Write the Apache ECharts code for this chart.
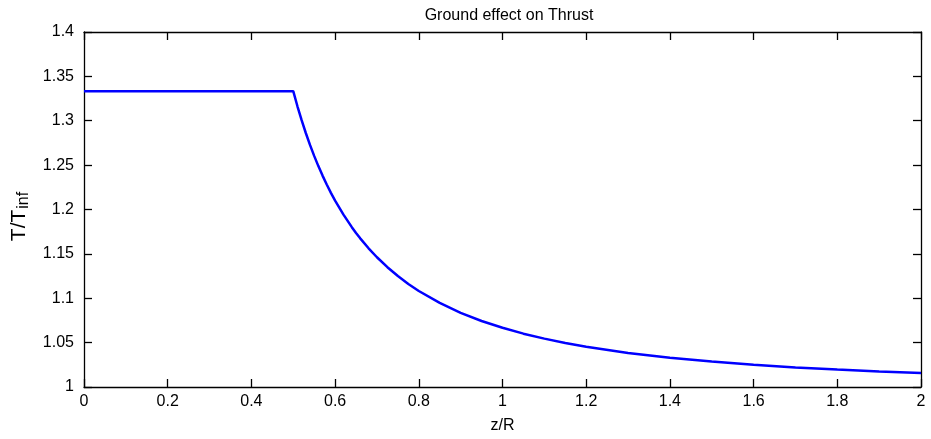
<!DOCTYPE html>
<html>
<head>
<meta charset="utf-8">
<style>
  html, body { margin: 0; padding: 0; background: #fff; }
  #chart { width: 931px; height: 439px; }
</style>
<script src="https://cdn.jsdelivr.net/npm/echarts@6/dist/echarts.min.js"></script>
</head>
<body>
<div id="chart"></div>
<script>
// Height above ground, z/R
const zOverR = [0, 0.1, 0.2, 0.3, 0.4, 0.5,
  0.51, 0.52, 0.53, 0.54, 0.55, 0.56, 0.57, 0.58, 0.59, 0.6,
  0.62, 0.64, 0.65, 0.66, 0.68, 0.7, 0.725, 0.75, 0.775, 0.8,
  0.85, 0.9, 0.95, 1.0, 1.05, 1.1, 1.15, 1.2, 1.3, 1.4, 1.5, 1.6, 1.7, 1.8, 1.9, 2.0];
// Thrust ratio T/T_inf
const thrustRatio = [1.3333, 1.3333, 1.3333, 1.3333, 1.3333, 1.3333,
  1.3163, 1.3006, 1.2862, 1.2728, 1.2604, 1.2489, 1.2382, 1.2282, 1.2188, 1.2101,
  1.1942, 1.1801, 1.1736, 1.1675, 1.1563, 1.1462, 1.1350, 1.1250, 1.1161, 1.1082,
  1.0947, 1.0836, 1.0744, 1.0667, 1.0601, 1.0545, 1.0496, 1.0454, 1.0384, 1.0329, 1.0286, 1.0250, 1.0221, 1.0197, 1.0176, 1.0159];
const xTicks = { min: 0, max: 2, interval: 0.2 };
const yTicks = { min: 1, max: 1.4, interval: 0.05 };

const font = '"Liberation Sans", Arial, Helvetica, sans-serif';
const chart = echarts.init(document.getElementById('chart'));

const baseAxis = {
  axisLine: { show: true, onZero: false, lineStyle: { color: '#000', width: 1.3 } },
  axisTick: { show: true, inside: true, length: 8, lineStyle: { color: '#000', width: 1.3 } },
  splitLine: { show: false },
  axisLabel: { color: '#000', fontSize: 16, fontFamily: font }
};

chart.setOption({
  animation: false,
  backgroundColor: '#fff',
  title: {
    text: 'Ground effect on Thrust',
    left: 504, textAlign: 'center', top: 3,
    textStyle: { fontSize: 16, fontWeight: 'normal', color: '#000', fontFamily: font }
  },
  grid: { left: 84, right: 10, top: 32, bottom: 51, containLabel: false },
  xAxis: [
    Object.assign({}, baseAxis, {
      type: 'value', position: 'bottom', min: xTicks.min, max: xTicks.max, interval: xTicks.interval,
      name: 'z/R', nameLocation: 'middle', nameGap: 31,
      nameTextStyle: { color: '#000', fontSize: 16, fontFamily: font },
      axisLabel: Object.assign({}, baseAxis.axisLabel, { margin: 7 })
    }),
    Object.assign({}, baseAxis, {
      type: 'value', position: 'top', min: xTicks.min, max: xTicks.max, interval: xTicks.interval,
      axisLabel: { show: false }
    })
  ],
  yAxis: [
    Object.assign({}, baseAxis, {
      type: 'value', position: 'left', min: yTicks.min, max: yTicks.max, interval: yTicks.interval,
      name: '{m|T/T}{s|inf}', nameLocation: 'middle', nameGap: 52, nameRotate: 90,
      nameTextStyle: {
        color: '#000', fontFamily: font, padding: [0, 14, 0, 0],
        rich: {
          m: { fontSize: 21, color: '#000', fontFamily: font },
          s: { fontSize: 16, color: '#000', fontFamily: font, padding: [10, 0, 0, 1] }
        }
      },
      axisLabel: Object.assign({}, baseAxis.axisLabel, { margin: 10 })
    }),
    Object.assign({}, baseAxis, {
      type: 'value', position: 'right', min: yTicks.min, max: yTicks.max, interval: yTicks.interval,
      axisLabel: { show: false }
    })
  ],
  series: [{
    type: 'line',
    xAxisIndex: 0, yAxisIndex: 0,
    data: zOverR.map((z, i) => [z, thrustRatio[i]]),
    smooth: false,
    showSymbol: false,
    lineStyle: { color: '#0000ff', width: 2.5 },
    itemStyle: { color: '#0000ff' }
  }]
});
</script>
</body>
</html>
